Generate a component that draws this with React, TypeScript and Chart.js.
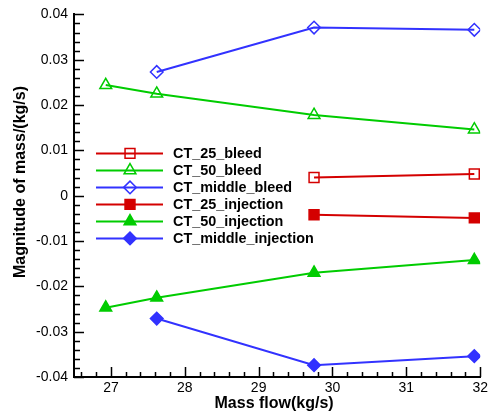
import React, { useEffect, useRef } from "react";
import { Chart, registerables } from "chart.js";
import { drawPoint } from "chart.js/helpers";

Chart.register(...registerables);

const seriesNames = [
  "CT_25_bleed",
  "CT_50_bleed",
  "CT_middle_bleed",
  "CT_25_injection",
  "CT_50_injection",
  "CT_middle_injection",
];

const ct25BleedX = [29.75, 31.92];
const ct25BleedY = [0.004, 0.0048];
const ct50BleedX = [26.93, 27.62, 29.75, 31.92];
const ct50BleedY = [0.0244, 0.0225, 0.0178, 0.0146];
const ctMiddleBleedX = [27.62, 29.75, 31.92];
const ctMiddleBleedY = [0.0273, 0.0371, 0.0366];
const ct25InjX = [29.75, 31.92];
const ct25InjY = [-0.0042, -0.0049];
const ct50InjX = [26.93, 27.62, 29.75, 31.92];
const ct50InjY = [-0.0247, -0.0225, -0.017, -0.0142];
const ctMiddleInjX = [27.62, 29.75, 31.92];
const ctMiddleInjY = [-0.0271, -0.0374, -0.0354];

const xTicks = [27, 28, 29, 30, 31, 32];
const yTicks = [-0.04, -0.03, -0.02, -0.01, 0, 0.01, 0.02, 0.03, 0.04];
const xMinorStep = 0.2;
const yMinorStep = 0.002;

const RED = "rgb(212,0,0)";
const GREEN = "rgb(0,204,0)";
const BLUE = "rgb(50,50,255)";
const CLEAR = "rgba(0,0,0,0)";

const pts = (xs: number[], ys: number[]) => xs.map((x, i) => ({ x, y: ys[i] }));

const styles = [
  { color: RED, style: "rect", radius: 7, fill: false },
  { color: GREEN, style: "triangle", radius: 6.8, fill: false },
  { color: BLUE, style: "rectRot", radius: 6.3, fill: false },
  { color: RED, style: "rect", radius: 7, fill: true },
  { color: GREEN, style: "triangle", radius: 6.8, fill: true },
  { color: BLUE, style: "rectRot", radius: 6.3, fill: true },
];

const seriesData = [
  pts(ct25BleedX, ct25BleedY),
  pts(ct50BleedX, ct50BleedY),
  pts(ctMiddleBleedX, ctMiddleBleedY),
  pts(ct25InjX, ct25InjY),
  pts(ct50InjX, ct50InjY),
  pts(ctMiddleInjX, ctMiddleInjY),
];

const FONT = "'Liberation Sans', Arial, sans-serif";

const decorPlugin = {
  id: "decor",
  afterDraw(chart: any) {
    const ctx = chart.ctx;
    const area = chart.chartArea;
    const xs = chart.scales.x;
    const ys = chart.scales.y;
    ctx.save();
    // inward ticks
    ctx.strokeStyle = "#000";
    ctx.lineWidth = 1.5;
    ctx.beginPath();
    const xMin = xs.min, xMax = xs.max;
    const startX = Math.ceil(xMin / xMinorStep - 1e-6) * xMinorStep;
    for (let v = startX; v <= xMax + 1e-9; v += xMinorStep) {
      const vv = Math.round(v * 1000) / 1000;
      const major = xTicks.some((t) => Math.abs(t - vv) < 1e-6);
      const px = Math.round(xs.getPixelForValue(vv)) + 0.5;
      ctx.moveTo(px, area.bottom);
      ctx.lineTo(px, area.bottom - (major ? 10 : 5));
    }
    const yMin = ys.min, yMax = ys.max;
    const startY = Math.ceil(yMin / yMinorStep - 1e-6) * yMinorStep;
    for (let v = startY; v <= yMax + 1e-9; v += yMinorStep) {
      const vv = Math.round(v * 100000) / 100000;
      const major = yTicks.some((t) => Math.abs(t - vv) < 1e-7);
      const py = Math.round(ys.getPixelForValue(vv)) + 0.5;
      ctx.moveTo(area.left, py);
      ctx.lineTo(area.left + (major ? 10 : 6), py);
    }
    ctx.stroke();

    // axis titles
    ctx.fillStyle = "#000";
    ctx.font = `bold 16px ${FONT}`;
    ctx.textAlign = "center";
    ctx.textBaseline = "alphabetic";
    ctx.fillText("Mass flow(kg/s)", (area.left + area.right) / 2 - 3, 408);
    ctx.save();
    ctx.translate(24.5, 182);
    ctx.rotate(-Math.PI / 2);
    ctx.fillText("Magnitude of mass/(kg/s)", 0, 0);
    ctx.restore();

    // legend
    const lx0 = area.left + 22;
    const lx1 = area.left + 89;
    const mx = area.left + 56;
    const tx = area.left + 99;
    ctx.font = `bold 14.4px ${FONT}`;
    ctx.textAlign = "left";
    ctx.textBaseline = "middle";
    chart.data.datasets.forEach((ds: any, i: number) => {
      const y = area.top + 139 + i * 17;
      const st = styles[i];
      ctx.strokeStyle = st.color;
      ctx.lineWidth = 2;
      ctx.beginPath();
      ctx.moveTo(lx0, y);
      ctx.lineTo(lx1, y);
      ctx.stroke();
      ctx.fillStyle = st.fill ? st.color : CLEAR;
      ctx.lineWidth = 1.5;
      drawPoint(ctx, { pointStyle: st.style, radius: st.radius, rotation: 0, borderWidth: 1.5 } as any, mx, y);
      ctx.fillStyle = "#000";
      ctx.fillText(ds.label, tx, y + 1);
    });
    ctx.restore();
  },
};

export default function App() {
  const ref = useRef<HTMLCanvasElement | null>(null);
  useEffect(() => {
    document.body.style.margin = "0";
    const canvas = ref.current;
    if (!canvas) return;
    const chart = new Chart(canvas, {
      type: "line",
      data: {
        datasets: seriesNames.map((name, i) => ({
          label: name,
          data: seriesData[i],
          borderColor: styles[i].color,
          backgroundColor: styles[i].fill ? styles[i].color : CLEAR,
          pointBorderColor: styles[i].color,
          pointBackgroundColor: styles[i].fill ? styles[i].color : CLEAR,
          pointStyle: styles[i].style as any,
          pointRadius: styles[i].radius,
          pointBorderWidth: 1.5,
          borderWidth: 2,
          tension: 0,
          fill: false,
        })),
      },
      options: {
        responsive: false,
        animation: false,
        events: [],
        layout: { padding: { left: 0, right: 9, top: 12, bottom: 0 } },
        plugins: {
          legend: { display: false },
          tooltip: { enabled: false },
          title: { display: false },
        },
        scales: {
          x: {
            type: "linear",
            min: 26.5,
            max: 32,
            afterBuildTicks: (s: any) => {
              s.ticks = xTicks.map((v) => ({ value: v }));
            },
            afterFit: (s: any) => {
              s.height = 37;
            },
            ticks: {
              color: "#000",
              font: { family: FONT, size: 14 },
              padding: 3,
              maxRotation: 0,
              autoSkip: false,
              callback: (v: any) => String(v),
            },
            grid: { display: true, drawOnChartArea: false, drawTicks: false },
            border: { display: true, color: "#000", width: 2 },
          },
          y: {
            type: "linear",
            min: -0.04,
            max: 0.04,
            afterBuildTicks: (s: any) => {
              s.ticks = yTicks.map((v) => ({ value: v }));
            },
            afterFit: (s: any) => {
              s.width = 74;
            },
            ticks: {
              color: "#000",
              font: { family: FONT, size: 14 },
              padding: 6,
              autoSkip: false,
              callback: (v: any) => (Math.abs(v) < 1e-9 ? "0" : Number(v).toFixed(2)),
            },
            grid: { display: true, drawOnChartArea: false, drawTicks: false },
            border: { display: true, color: "#000", width: 2 },
          },
        },
      },
      plugins: [decorPlugin],
    });
    return () => chart.destroy();
  }, []);
  return (
    <div style={{ width: 491, height: 414 }}>
      <canvas ref={ref} width={491} height={414} style={{ display: "block" }} />
    </div>
  );
}
